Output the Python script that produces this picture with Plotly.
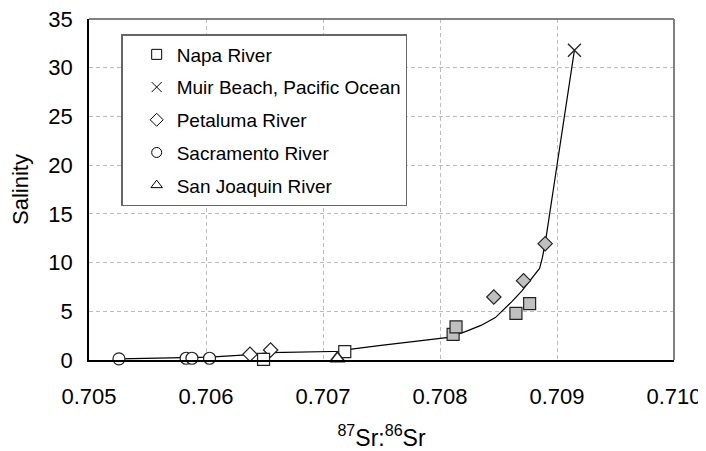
import plotly.graph_objects as go

# ---- data ----
napa_white_x = [0.706492, 0.707186]
napa_white_y = [0.07, 0.85]
napa_gray_x = [0.708112, 0.708137, 0.708649, 0.708766]
napa_gray_y = [2.64, 3.39, 4.79, 5.78]

petaluma_white_x = [0.706376, 0.706552]
petaluma_white_y = [0.58, 1.03]
petaluma_gray_x = [0.708460, 0.708714, 0.708899]
petaluma_gray_y = [6.47, 8.14, 11.94]

sacramento_x = [0.705256, 0.705830, 0.705880, 0.706030]
sacramento_y = [0.12, 0.18, 0.18, 0.18]

sanjoaquin_x = [0.707123]
sanjoaquin_y = [0.15]

muir_x = [0.709149]
muir_y = [31.8]

curve_x = [0.705256, 0.705830, 0.706030, 0.706380, 0.706550, 0.707190, 0.707227,
           0.707478, 0.708075, 0.708217, 0.708350, 0.708473, 0.708614, 0.708700,
           0.708785, 0.708851, 0.708875, 0.708899, 0.709149]
curve_y = [0.12, 0.28, 0.30, 0.55, 0.75, 0.90, 1.10,
           1.47, 2.33, 2.91, 3.55, 4.35, 5.99, 7.10,
           8.39, 9.40, 10.50, 11.98, 31.8]

legend_names = ["Napa River", "Muir Beach, Pacific Ocean", "Petaluma River",
                "Sacramento River", "San Joaquin River"]
legend_symbols = ["square-open", "x-thin-open", "diamond-open", "circle-open", "triangle-up-open"]

x_ticks = [0.705, 0.706, 0.707, 0.708, 0.709, 0.710]
x_ticklabels = ["0.705", "0.706", "0.707", "0.708", "0.709", "0.710"]
y_ticks = [0, 5, 10, 15, 20, 25, 30, 35]

FONT = "Liberation Sans, Arial, sans-serif"
GRAY = "#c0c0c0"
EDGE = "#222222"

fig = go.Figure()

fig.add_trace(go.Scatter(x=curve_x, y=curve_y, mode="lines", line=dict(color="black", width=1.2),
                         showlegend=False, hoverinfo="skip"))

def pts(x, y, symbol, size, fill, lw=1.2):
    fig.add_trace(go.Scatter(x=x, y=y, mode="markers", showlegend=False, cliponaxis=False,
                             marker=dict(symbol=symbol, size=size, color=fill,
                                         line=dict(color=EDGE, width=lw))))

pts(sacramento_x, sacramento_y, "circle", 12, "white")
pts(petaluma_white_x, petaluma_white_y, "diamond", 11, "white")
pts(napa_white_x, napa_white_y, "square", 12, "white")
pts(sanjoaquin_x, sanjoaquin_y, "triangle-up", 13, "white", 1.6)
pts(napa_gray_x, napa_gray_y, "square", 12, GRAY)
pts(petaluma_gray_x, petaluma_gray_y, "diamond", 11, GRAY)
fig.add_trace(go.Scatter(x=muir_x, y=muir_y, mode="markers", showlegend=False, cliponaxis=False,
                         marker=dict(symbol="x-thin-open", size=13, color=EDGE,
                                     line=dict(color=EDGE, width=1.3))))

for i, (name, sym) in enumerate(zip(legend_names, legend_symbols)):
    fig.add_trace(go.Scatter(x=[None], y=[None], mode="markers", name=name,
                             legendgroup=f"g{i}",
                             marker=dict(symbol=sym, size=10, color="black",
                                         line=dict(color="black", width=1))))

grid = dict(showgrid=True, gridcolor="#bdbdbd", gridwidth=1, griddash="4px,3px",
            zeroline=False, showline=True, linecolor="black", linewidth=1.5,
            ticks="", automargin=False, ticklabeloverflow="allow",
            tickfont=dict(size=22, color="black", family=FONT))

fig.update_xaxes(range=[0.705, 0.710], tickmode="array", tickvals=x_ticks, ticktext=x_ticklabels,
                 tickformat=".3f", ticklabelstandoff=16,
                 title=dict(text="<sup>87</sup>Sr:<sup>86</sup>Sr", font=dict(size=23, color="black", family=FONT), standoff=22),
                 **grid)
fig.update_yaxes(range=[0, 35], tickmode="array", tickvals=y_ticks, ticklabelstandoff=10,
                 title=dict(text="Salinity", font=dict(size=22, color="black", family=FONT), standoff=14),
                 **grid)

fig.add_shape(type="line", xref="paper", yref="paper", x0=0, x1=1, y0=1, y1=1,
              line=dict(color="#808080", width=2))
fig.add_shape(type="line", xref="paper", yref="paper", x0=1, x1=1, y0=0, y1=1,
              line=dict(color="#808080", width=2))

# the page body adds an 8px offset, so the figure is sized to fill the window after it
fig.update_layout(
    width=698, height=443,
    margin=dict(l=81, r=32, t=11, b=91),
    plot_bgcolor="white", paper_bgcolor="white",
    font=dict(family=FONT, color="black"),
    legend=dict(x=0.055, y=0.956, xanchor="left", yanchor="top",
                bgcolor="white", bordercolor="#666666", borderwidth=1.5,
                font=dict(size=19, family=FONT, color="black"),
                tracegroupgap=5, indentation=14, itemwidth=30),
)

fig.write_html("out.html")
